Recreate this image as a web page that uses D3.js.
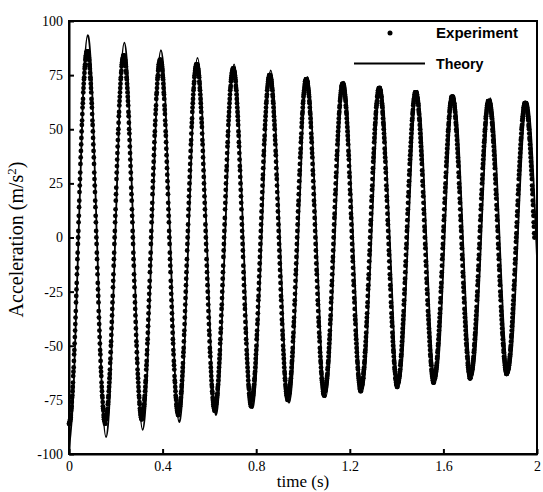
<!DOCTYPE html>
<html>
<head>
<meta charset="utf-8">
<script src="https://cdn.jsdelivr.net/npm/d3@7"></script>
<style>
  body { margin: 0; background: #fff; }
</style>
</head>
<body>
<svg id="chart" width="543" height="492"></svg>
<script>
// Measured acceleration (m/s²), one sample every 1 ms starting at t = 0 s
const expStep = 0.001;
const expAccel = [
-86,-86,-86,-85,-85,-84,-84,-83,-82,-80,-79,-78,-76,-74,-73,-71,-69,-67,-64,-62,-60,-57,-54,-52,-49,-46,-43,-40,-37,-34,-30,-27,-24,-21,-17,-14,-10,-7,-3,
0,3,7,10,14,17,21,24,27,30,34,37,40,43,46,49,52,54,57,60,62,64,67,69,71,73,74,76,78,79,80,82,83,84,84,85,85,86,86,
86,86,86,85,85,84,84,83,82,80,79,78,76,74,73,71,69,67,64,62,60,57,54,52,49,46,43,40,37,34,30,27,24,21,17,14,10,7,3,
0,-3,-7,-10,-14,-17,-21,-24,-27,-30,-34,-37,-40,-43,-46,-49,-52,-54,-57,-60,-62,-64,-67,-69,-71,-73,-74,-76,-78,-79,-80,-82,-83,-84,-84,-85,-85,-86,-86,
-84,-84,-84,-83,-83,-82,-82,-81,-80,-79,-77,-76,-74,-73,-71,-69,-67,-65,-63,-61,-58,-56,-53,-50,-48,-45,-42,-39,-36,-33,-30,-27,-23,-20,-17,-13,-10,-7,-3,
0,3,7,10,13,17,20,23,27,30,33,36,39,42,45,48,50,53,56,58,61,63,65,67,69,71,73,74,76,77,79,80,81,82,82,83,83,84,84,
84,84,84,83,83,82,82,81,80,79,77,76,74,73,71,69,67,65,63,61,58,56,53,50,48,45,42,39,36,33,30,27,23,20,17,13,10,7,3,
0,-3,-7,-10,-13,-17,-20,-23,-27,-30,-33,-36,-39,-42,-45,-48,-50,-53,-56,-58,-61,-63,-65,-67,-69,-71,-73,-74,-76,-77,-79,-80,-81,-82,-82,-83,-83,-84,-84,
-82,-82,-82,-81,-81,-80,-80,-79,-78,-77,-75,-74,-73,-71,-69,-67,-66,-64,-61,-59,-57,-54,-52,-49,-47,-44,-41,-38,-35,-32,-29,-26,-23,-20,-16,-13,-10,-7,-3,
0,3,7,10,13,16,20,23,26,29,32,35,38,41,44,47,49,52,54,57,59,61,64,66,67,69,71,73,74,75,77,78,79,80,80,81,81,82,82,
82,82,82,81,81,80,80,79,78,77,75,74,73,71,69,67,66,64,61,59,57,54,52,49,47,44,41,38,35,32,29,26,23,20,16,13,10,7,3,
0,-3,-7,-10,-13,-16,-20,-23,-26,-29,-32,-35,-38,-41,-44,-47,-49,-52,-54,-57,-59,-61,-64,-66,-67,-69,-71,-73,-74,-75,-77,-78,-79,-80,-80,-81,-81,-82,-82,
-80,-80,-80,-79,-79,-78,-78,-77,-76,-75,-74,-72,-71,-69,-68,-66,-64,-62,-60,-58,-55,-53,-51,-48,-45,-43,-40,-37,-34,-31,-28,-25,-22,-19,-16,-13,-10,-6,-3,
0,3,6,10,13,16,19,22,25,28,31,34,37,40,43,45,48,51,53,55,58,60,62,64,66,68,69,71,72,74,75,76,77,78,78,79,79,80,80,
80,80,80,79,79,78,78,77,76,75,74,72,71,69,68,66,64,62,60,58,55,53,51,48,45,43,40,37,34,31,28,25,22,19,16,13,10,6,3,
0,-3,-6,-10,-13,-16,-19,-22,-25,-28,-31,-34,-37,-40,-43,-45,-48,-51,-53,-55,-58,-60,-62,-64,-66,-68,-69,-71,-72,-74,-75,-76,-77,-78,-78,-79,-79,-80,-80,
-78,-78,-78,-77,-77,-76,-76,-75,-74,-73,-72,-70,-69,-68,-66,-64,-62,-60,-58,-56,-54,-52,-49,-47,-44,-42,-39,-36,-33,-31,-28,-25,-22,-19,-16,-13,-9,-6,-3,
0,3,6,9,13,16,19,22,25,28,31,33,36,39,42,44,47,49,52,54,56,58,60,62,64,66,68,69,70,72,73,74,75,76,76,77,77,78,78,
78,78,78,77,77,76,76,75,74,73,72,70,69,68,66,64,62,60,58,56,54,52,49,47,44,42,39,36,33,31,28,25,22,19,16,13,9,6,3,
0,-3,-6,-9,-13,-16,-19,-22,-25,-28,-31,-33,-36,-39,-42,-44,-47,-49,-52,-54,-56,-58,-60,-62,-64,-66,-68,-69,-70,-72,-73,-74,-75,-76,-76,-77,-77,-78,-78,
-75,-75,-75,-74,-74,-73,-73,-72,-71,-70,-69,-68,-66,-65,-63,-62,-60,-58,-56,-54,-52,-50,-47,-45,-43,-40,-38,-35,-32,-29,-27,-24,-21,-18,-15,-12,-9,-6,-3,
0,3,6,9,12,15,18,21,24,27,29,32,35,38,40,43,45,47,50,52,54,56,58,60,62,63,65,66,68,69,70,71,72,73,73,74,74,75,75,
75,75,75,74,74,73,73,72,71,70,69,68,66,65,63,62,60,58,56,54,52,50,47,45,43,40,38,35,32,29,27,24,21,18,15,12,9,6,3,
0,-3,-6,-9,-12,-15,-18,-21,-24,-27,-29,-32,-35,-38,-40,-43,-45,-47,-50,-52,-54,-56,-58,-60,-62,-63,-65,-66,-68,-69,-70,-71,-72,-73,-73,-74,-74,-75,-75,
-73,-73,-73,-72,-72,-72,-71,-70,-69,-68,-67,-66,-65,-63,-62,-60,-58,-57,-55,-53,-51,-48,-46,-44,-41,-39,-37,-34,-31,-29,-26,-23,-20,-17,-15,-12,-9,-6,-3,
0,3,6,9,12,15,17,20,23,26,29,31,34,37,39,41,44,46,48,51,53,55,57,58,60,62,63,65,66,67,68,69,70,71,72,72,72,73,73,
73,73,73,72,72,72,71,70,69,68,67,66,65,63,62,60,58,57,55,53,51,48,46,44,41,39,37,34,31,29,26,23,20,17,15,12,9,6,3,
0,-3,-6,-9,-12,-15,-17,-20,-23,-26,-29,-31,-34,-37,-39,-41,-44,-46,-48,-51,-53,-55,-57,-58,-60,-62,-63,-65,-66,-67,-68,-69,-70,-71,-72,-72,-72,-73,-73,
-71,-71,-71,-70,-70,-70,-69,-68,-67,-66,-65,-64,-63,-61,-60,-58,-57,-55,-53,-51,-49,-47,-45,-43,-40,-38,-36,-33,-30,-28,-25,-22,-20,-17,-14,-11,-9,-6,-3,
0,3,6,9,11,14,17,20,22,25,28,30,33,36,38,40,43,45,47,49,51,53,55,57,58,60,61,63,64,65,66,67,68,69,70,70,70,71,71,
71,71,71,70,70,70,69,68,67,66,65,64,63,61,60,58,57,55,53,51,49,47,45,43,40,38,36,33,30,28,25,22,20,17,14,11,9,6,3,
0,-3,-6,-9,-11,-14,-17,-20,-22,-25,-28,-30,-33,-36,-38,-40,-43,-45,-47,-49,-51,-53,-55,-57,-58,-60,-61,-63,-64,-65,-66,-67,-68,-69,-70,-70,-70,-71,-71,
-69,-69,-69,-68,-68,-68,-67,-66,-65,-65,-63,-62,-61,-60,-58,-57,-55,-53,-52,-50,-48,-46,-44,-41,-39,-37,-35,-32,-30,-27,-24,-22,-19,-17,-14,-11,-8,-6,-3,
0,3,6,8,11,14,17,19,22,24,27,30,32,35,37,39,41,44,46,48,50,52,53,55,57,58,60,61,62,63,65,65,66,67,68,68,68,69,69,
69,69,69,68,68,68,67,66,65,65,63,62,61,60,58,57,55,53,52,50,48,46,44,41,39,37,35,32,30,27,24,22,19,17,14,11,8,6,3,
0,-3,-6,-8,-11,-14,-17,-19,-22,-24,-27,-30,-32,-35,-37,-39,-41,-44,-46,-48,-50,-52,-53,-55,-57,-58,-60,-61,-62,-63,-65,-65,-66,-67,-68,-68,-68,-69,-69,
-67,-67,-67,-67,-66,-66,-65,-64,-64,-63,-62,-61,-59,-58,-57,-55,-54,-52,-50,-48,-46,-44,-42,-40,-38,-36,-34,-31,-29,-26,-24,-21,-19,-16,-13,-11,-8,-5,-3,
0,3,5,8,11,13,16,19,21,24,26,29,31,34,36,38,40,42,44,46,48,50,52,54,55,57,58,59,61,62,63,64,64,65,66,66,67,67,67,
67,67,67,67,66,66,65,64,64,63,62,61,59,58,57,55,54,52,50,48,46,44,42,40,38,36,34,31,29,26,24,21,19,16,13,11,8,5,3,
0,-3,-5,-8,-11,-13,-16,-19,-21,-24,-26,-29,-31,-34,-36,-38,-40,-42,-44,-46,-48,-50,-52,-54,-55,-57,-58,-59,-61,-62,-63,-64,-64,-65,-66,-66,-67,-67,-67,
-65,-65,-65,-65,-64,-64,-63,-62,-62,-61,-60,-59,-58,-56,-55,-53,-52,-50,-49,-47,-45,-43,-41,-39,-37,-35,-33,-30,-28,-25,-23,-21,-18,-16,-13,-10,-8,-5,-3,
0,3,5,8,10,13,16,18,21,23,25,28,30,33,35,37,39,41,43,45,47,49,50,52,53,55,56,58,59,60,61,62,62,63,64,64,65,65,65,
65,65,65,65,64,64,63,62,62,61,60,59,58,56,55,53,52,50,49,47,45,43,41,39,37,35,33,30,28,25,23,21,18,16,13,10,8,5,3,
0,-3,-5,-8,-10,-13,-16,-18,-21,-23,-25,-28,-30,-33,-35,-37,-39,-41,-43,-45,-47,-49,-50,-52,-53,-55,-56,-58,-59,-60,-61,-62,-62,-63,-64,-64,-65,-65,-65,
-63,-63,-63,-63,-62,-62,-61,-61,-60,-59,-58,-57,-56,-55,-53,-52,-50,-49,-47,-45,-44,-42,-40,-38,-36,-34,-32,-29,-27,-25,-22,-20,-18,-15,-13,-10,-8,-5,-3,
0,3,5,8,10,13,15,18,20,22,25,27,29,32,34,36,38,40,42,44,45,47,49,50,52,53,55,56,57,58,59,60,61,61,62,62,63,63,63,
63,63,63,63,62,62,61,61,60,59,58,57,56,55,53,52,50,49,47,45,44,42,40,38,36,34,32,29,27,25,22,20,18,15,13,10,8,5,3,
0,-3,-5,-8,-10,-13,-15,-18,-20,-22,-25,-27,-29,-32,-34,-36,-38,-40,-42,-44,-45,-47,-49,-50,-52,-53,-55,-56,-57,-58,-59,-60,-61,-61,-62,-62,-63,-63,-63,
-62,-62,-62,-62,-61,-61,-60,-60,-59,-58,-57,-56,-55,-54,-52,-51,-50,-48,-46,-45,-43,-41,-39,-37,-35,-33,-31,-29,-27,-24,-22,-20,-17,-15,-12,-10,-7,-5,-2,
0,2,5,7,10,12,15,17,20,22,24,27,29,31,33,35,37,39,41,43,45,46,48,50,51,52,54,55,56,57,58,59,60,60,61,61,62,62,62,
62,62,62,62,61,61,60,60,59,58,57,56,55,54,52,51,50,48,46,45,43,41,39,37,35,33,31,29,27,24,22,20,17,15,12,10,7,5,2,
0
];

// Model prediction: time (s) and acceleration (m/s²)
const theoryTime = [
0, 0.02, 0.04, 0.06, 0.08, 0.0996, 0.1191, 0.1387, 0.1582, 0.1778, 0.1973, 0.2169, 0.2364,
0.2560, 0.2755, 0.2951, 0.3146, 0.3342, 0.3537, 0.3733, 0.3928, 0.4124, 0.4319, 0.4515, 0.4710,
0.4906, 0.5101, 0.5297, 0.5492, 0.5688, 0.5883, 0.6079, 0.6274, 0.6470, 0.6665, 0.6861, 0.7056,
0.7252, 0.7447, 0.7643, 0.7838, 0.8034, 0.8229, 0.8425, 0.8620, 0.8816, 0.9011, 0.9207, 0.9402,
0.9598, 0.9793, 0.9989, 1.0184, 1.0380, 1.0575, 1.0771, 1.0966, 1.1162, 1.1357, 1.1553, 1.1748,
1.1944, 1.2139, 1.2335, 1.2530, 1.2726, 1.2921, 1.3117, 1.3312, 1.3508, 1.3703, 1.3899, 1.4094,
1.4290, 1.4485, 1.4681, 1.4876, 1.5072, 1.5267, 1.5463, 1.5658, 1.5854, 1.6049, 1.6245, 1.6440,
1.6636, 1.6831, 1.7027, 1.7222, 1.7418, 1.7613, 1.7809, 1.8004, 1.8200, 1.8395, 1.8591, 1.8786,
1.8982, 1.9177, 1.9373, 1.9568, 1.9764, 1.9959, 2.0
];
const theoryAccel = [
-97.5, -69.5, -2.0, 65.5, 93.5, 66.3, 0.7, -65.0, -92.2, -65.5, -1.1, 63.3, 90.0,
63.8, 0.6, -62.6, -88.8, -63.1, -1.2, 60.8, 86.5, 61.3, 0.6, -60.1, -85.3,
-60.7, -1.2, 58.4, 83.0, 58.8, 0.5, -57.8, -82.0, -58.3, -1.0, 56.3, 80.0,
56.7, 0.6, -55.5, -78.8, -56.0, -0.8, 54.4, 77.2, 54.7, 0.4, -53.9, -76.4,
-54.3, -1.1, 52.1, 74.2, 52.5, 0.2, -52.1, -73.8, -52.4, -0.9, 50.6, 72.0,
51.0, 0.4, -50.3, -71.3, -50.6, -0.8, 49.1, 69.8, 49.5, 0.5, -48.5, -68.8,
-48.8, -0.5, 47.8, 67.8, 48.1, 0.6, -47.0, -66.7, -47.3, -0.5, 46.4, 65.8,
46.7, 0.6, -45.6, -64.7, -45.8, -0.2, 45.5, 64.4, 45.8, 0.9, -44.1, -62.7,
-44.4, -0.1, 44.3, 62.6, 44.5, 0.8, -9.3
];

const xTicks = [0, 0.4, 0.8, 1.2, 1.6, 2];
const yTicks = [-100, -75, -50, -25, 0, 25, 50, 75, 100];
const legendLabels = ["Experiment", "Theory"];
const legendWidths = [82, 47.5];

const W = 543, H = 492;
const plot = { left: 69, right: 537, top: 21, bottom: 454 };
const serif = "'Liberation Serif', 'Times New Roman', serif";
const sans = "'Liberation Sans', Arial, sans-serif";

const x = d3.scaleLinear().domain([0, 2]).range([plot.left, plot.right]);
const y = d3.scaleLinear().domain([-100, 100]).range([plot.bottom, plot.top]);

const svg = d3.select("#chart");
svg.append("rect").attr("width", W).attr("height", H).attr("fill", "#fff");

// Theory curve
const theory = theoryTime.map((t, i) => ({ t, a: theoryAccel[i] }));
svg.append("path")
  .datum(theory)
  .attr("fill", "none")
  .attr("stroke", "#000")
  .attr("stroke-width", 1.8)
  .attr("stroke-linejoin", "round")
  .attr("d", d3.line().x(d => x(d.t)).y(d => y(d.a)).curve(d3.curveNatural));

// Experimental samples
svg.append("g")
  .selectAll("circle")
  .data(expAccel)
  .join("circle")
  .attr("cx", (d, i) => x(i * expStep))
  .attr("cy", d => y(d))
  .attr("r", 2.4)
  .attr("fill", "#000");

// Axes with inward ticks
const xAxis = svg.append("g")
  .attr("transform", `translate(0,${plot.bottom})`)
  .call(d3.axisBottom(x).tickValues(xTicks).tickFormat(d => String(d))
    .tickSize(-5).tickSizeOuter(0).tickPadding(7));
const yAxis = svg.append("g")
  .attr("transform", `translate(${plot.left},0)`)
  .call(d3.axisLeft(y).tickValues(yTicks).tickFormat(d => String(d))
    .tickSize(-5).tickSizeOuter(0).tickPadding(6));

[xAxis, yAxis].forEach(g => {
  g.attr("font-family", serif).attr("font-size", 14);
  g.selectAll("text").attr("fill", "#000");
  g.selectAll("line").attr("stroke", "#000").attr("stroke-width", 2);
  g.select(".domain").attr("stroke", "#000").attr("stroke-width", 2);
});

// Plot frame
svg.append("rect")
  .attr("x", plot.left).attr("y", plot.top)
  .attr("width", plot.right - plot.left).attr("height", plot.bottom - plot.top)
  .attr("fill", "none").attr("stroke", "#000").attr("stroke-width", 2);

// Axis titles
svg.append("text")
  .attr("x", (plot.left + plot.right) / 2).attr("y", 487)
  .attr("text-anchor", "middle")
  .attr("font-family", serif).attr("font-size", 17)
  .text("time (s)");

const yTitle = svg.append("text")
  .attr("transform", `translate(23,${(plot.top + plot.bottom) / 2 + 2}) rotate(-90)`)
  .attr("text-anchor", "middle")
  .attr("font-family", serif).attr("font-size", 20);
yTitle.append("tspan").text("Acceleration (m/s");
yTitle.append("tspan").attr("dy", -7).attr("font-size", 13).text("2");
yTitle.append("tspan").attr("dy", 7).text(")");

// Legend
const legend = svg.append("g");
legend.append("circle").attr("cx", 390).attr("cy", 33).attr("r", 2.5).attr("fill", "#000");
legend.append("line")
  .attr("x1", 354).attr("x2", 425).attr("y1", 63.5).attr("y2", 63.5)
  .attr("stroke", "#000").attr("stroke-width", 2);
legend.selectAll("text.lab")
  .data(legendLabels)
  .join("text")
  .attr("class", "lab")
  .attr("x", 436)
  .attr("y", (d, i) => 38 + i * 31)
  .attr("font-family", sans).attr("font-weight", "bold").attr("font-size", 14)
  .attr("textLength", (d, i) => legendWidths[i])
  .attr("lengthAdjust", "spacingAndGlyphs")
  .text(d => d);
</script>
</body>
</html>
